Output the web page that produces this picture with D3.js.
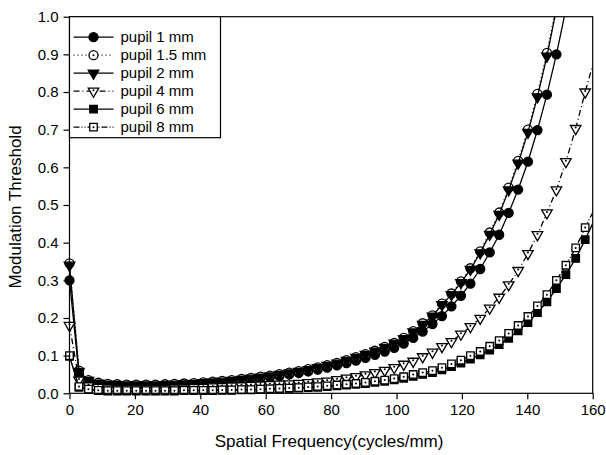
<!DOCTYPE html>
<html>
<head>
<meta charset="utf-8">
<script src="https://cdn.jsdelivr.net/npm/d3@7"></script>
<style>
  body { margin: 0; background: #fff; }
  svg text { font-family: "Liberation Sans", Arial, sans-serif; fill: #000; }
</style>
</head>
<body>
<div id="chart"></div>
<script>
// spatial frequency samples (cycles/mm)
const freq = [0, 2.9, 5.8, 8.8, 11.7, 14.6, 17.5, 20.4, 23.4, 26.3, 29.2, 32.1, 35.0, 38.0,
  40.9, 43.8, 46.7, 49.6, 52.6, 55.5, 58.4, 61.3, 64.2, 67.2, 70.1, 73.0, 75.9, 78.8, 81.8,
  84.7, 87.6, 90.5, 93.4, 96.4, 99.3, 102.2, 105.1, 108.0, 111.0, 113.9, 116.8, 119.7, 122.6,
  125.6, 128.5, 131.4, 134.3, 137.2, 140.2, 143.1, 146.0, 148.9, 151.8, 154.8, 157.7, 160.6];

const pupil1 = [0.300, 0.050, 0.032, 0.026, 0.023, 0.022, 0.021, 0.021, 0.021, 0.021, 0.022,
  0.023, 0.024, 0.025, 0.026, 0.028, 0.030, 0.032, 0.034, 0.037, 0.040, 0.043, 0.046, 0.050,
  0.054, 0.058, 0.063, 0.068, 0.074, 0.080, 0.087, 0.094, 0.102, 0.111, 0.121, 0.132, 0.147,
  0.164, 0.184, 0.205, 0.231, 0.259, 0.291, 0.330, 0.374, 0.421, 0.479, 0.541, 0.615, 0.699,
  0.793, 0.900, 1.020, 1.160];

const pupil15 = [0.345, 0.060, 0.035, 0.028, 0.025, 0.024, 0.023, 0.023, 0.023, 0.023, 0.024,
  0.025, 0.026, 0.027, 0.029, 0.031, 0.033, 0.035, 0.038, 0.041, 0.044, 0.047, 0.051, 0.055,
  0.059, 0.064, 0.069, 0.075, 0.081, 0.088, 0.096, 0.104, 0.113, 0.123, 0.134, 0.147, 0.165,
  0.186, 0.207, 0.238, 0.265, 0.297, 0.332, 0.377, 0.427, 0.480, 0.546, 0.617, 0.700, 0.795,
  0.904, 1.030, 1.170];

const pupil2 = [0.340, 0.058, 0.034, 0.027, 0.024, 0.023, 0.022, 0.022, 0.022, 0.022, 0.023,
  0.024, 0.025, 0.026, 0.028, 0.030, 0.032, 0.034, 0.037, 0.040, 0.043, 0.046, 0.050, 0.054,
  0.058, 0.063, 0.068, 0.074, 0.080, 0.087, 0.095, 0.103, 0.112, 0.122, 0.133, 0.145, 0.163,
  0.183, 0.205, 0.235, 0.262, 0.294, 0.329, 0.373, 0.422, 0.475, 0.540, 0.611, 0.693, 0.787,
  0.895, 1.020, 1.160];

const pupil4 = [0.180, 0.035, 0.020, 0.016, 0.014, 0.013, 0.013, 0.013, 0.013, 0.013, 0.013,
  0.014, 0.014, 0.015, 0.016, 0.017, 0.018, 0.019, 0.020, 0.021, 0.022, 0.023, 0.024, 0.025,
  0.026, 0.028, 0.030, 0.032, 0.036, 0.040, 0.044, 0.049, 0.055, 0.061, 0.068, 0.077, 0.085,
  0.097, 0.109, 0.124, 0.137, 0.157, 0.177, 0.199, 0.226, 0.255, 0.288, 0.326, 0.371, 0.421,
  0.479, 0.540, 0.615, 0.703, 0.800, 0.890];

const pupil6 = [0.098, 0.016, 0.010, 0.007, 0.006, 0.006, 0.006, 0.006, 0.006, 0.006, 0.006,
  0.006, 0.007, 0.007, 0.007, 0.007, 0.008, 0.008, 0.009, 0.009, 0.010, 0.011, 0.012, 0.013,
  0.014, 0.015, 0.016, 0.018, 0.020, 0.022, 0.024, 0.026, 0.029, 0.032, 0.036, 0.040, 0.045,
  0.050, 0.055, 0.062, 0.071, 0.080, 0.091, 0.102, 0.115, 0.129, 0.146, 0.166, 0.188, 0.214,
  0.243, 0.278, 0.315, 0.358, 0.408, 0.462];

const pupil8 = [0.100, 0.018, 0.011, 0.008, 0.007, 0.007, 0.007, 0.007, 0.007, 0.007, 0.007,
  0.007, 0.008, 0.008, 0.008, 0.008, 0.009, 0.009, 0.010, 0.010, 0.011, 0.012, 0.013, 0.014,
  0.015, 0.017, 0.018, 0.020, 0.022, 0.024, 0.026, 0.029, 0.032, 0.035, 0.039, 0.044, 0.050,
  0.055, 0.060, 0.068, 0.078, 0.088, 0.100, 0.111, 0.125, 0.140, 0.159, 0.180, 0.204, 0.232,
  0.262, 0.300, 0.340, 0.386, 0.440, 0.490];

const seriesNames = ['pupil 1 mm', 'pupil 1.5 mm', 'pupil 2 mm', 'pupil 4 mm', 'pupil 6 mm', 'pupil 8 mm'];
const seriesValues = [pupil1, pupil15, pupil2, pupil4, pupil6, pupil8];

const xTicks = [0, 20, 40, 60, 80, 100, 120, 140, 160];
const yTicks = [0, 0.1, 0.2, 0.3, 0.4, 0.5, 0.6, 0.7, 0.8, 0.9, 1.0];

// look of each series: marker, fill, dot in centre, dash
const styles = [
  { symbol: d3.symbolCircle, size: 64, filled: true, dot: false, dash: null, rot: 0 },
  { symbol: d3.symbolCircle, size: 64, filled: false, dot: true, dash: '1,3', rot: 0 },
  { symbol: d3.symbolTriangle, size: 48, filled: true, dot: false, dash: null, rot: 180 },
  { symbol: d3.symbolTriangle, size: 48, filled: false, dot: true, dash: '6,3,1,3', rot: 180 },
  { symbol: d3.symbolSquare, size: 56, filled: true, dot: false, dash: null, rot: 0 },
  { symbol: d3.symbolSquare, size: 56, filled: false, dot: true, dash: '6,2,1,2,1,2', rot: 0 }
];

const width = 606, height = 455;
const margin = { top: 16.7, right: 13.3, bottom: 61.7, left: 69.5 };
const innerWidth = width - margin.left - margin.right;
const innerHeight = height - margin.top - margin.bottom;

const svg = d3.select('#chart').append('svg')
  .attr('width', width)
  .attr('height', height);

const g = svg.append('g')
  .attr('transform', `translate(${margin.left},${margin.top})`);

const x = d3.scaleLinear().domain([0, 160]).range([0, innerWidth]);
const y = d3.scaleLinear().domain([0, 1]).range([innerHeight, 0]);

svg.append('defs').append('clipPath').attr('id', 'plot-clip')
  .append('rect').attr('x', 0).attr('y', 0).attr('width', innerWidth).attr('height', innerHeight);

const line = d3.line()
  .x(d => x(d.f))
  .y(d => y(d.v));

function drawMarker(sel, st) {
  sel.append('path')
    .attr('d', d3.symbol(st.symbol, st.size)())
    .attr('transform', `rotate(${st.rot})`)
    .attr('fill', st.filled ? '#000' : '#fff')
    .attr('stroke', '#000')
    .attr('stroke-width', 1.3);
  if (st.dot) {
    sel.append('circle')
      .attr('cx', 0)
      .attr('cy', st.rot ? -1 : 0)
      .attr('r', 1)
      .attr('fill', '#000');
  }
}

// Series
seriesValues.forEach((vals, i) => {
  const st = styles[i];
  const pts = vals.map((v, k) => ({ f: freq[k], v }));

  g.append('path')
    .datum(pts)
    .attr('clip-path', 'url(#plot-clip)')
    .attr('fill', 'none')
    .attr('stroke', '#000')
    .attr('stroke-width', 1.3)
    .attr('stroke-dasharray', st.dash)
    .attr('d', line);

  pts.filter(d => d.v <= 1 && d.f <= 160).forEach(d => {
    const m = g.append('g').attr('transform', `translate(${x(d.f)},${y(d.v)})`);
    drawMarker(m, st);
  });
});

// Frame
g.append('rect')
  .attr('x', 0).attr('y', 0)
  .attr('width', innerWidth).attr('height', innerHeight)
  .attr('fill', 'none')
  .attr('stroke', '#000')
  .attr('stroke-width', 1.2);

// Axes
const xAxis = g.append('g')
  .attr('transform', `translate(0,${innerHeight})`)
  .call(d3.axisBottom(x).tickValues(xTicks).tickSize(6).tickPadding(5).tickFormat(d3.format('d')));

const yAxis = g.append('g')
  .call(d3.axisLeft(y).tickValues(yTicks).tickSize(6).tickPadding(5).tickFormat(d3.format('.1f')));

[xAxis, yAxis].forEach(ax => {
  ax.select('.domain').remove();
  ax.selectAll('line').attr('stroke', '#000').attr('stroke-width', 1.2);
  ax.selectAll('text')
    .attr('fill', '#000')
    .attr('font-size', '15px')
    .style('font-family', '"Liberation Sans", Arial, sans-serif');
});

// Axis titles
svg.append('text')
  .attr('x', margin.left + innerWidth / 2 - 2)
  .attr('y', 447)
  .attr('text-anchor', 'middle')
  .attr('font-size', '17px')
  .text('Spatial Frequency(cycles/mm)');

svg.append('text')
  .attr('transform', `translate(21,${margin.top + innerHeight / 2 + 2}) rotate(-90)`)
  .attr('text-anchor', 'middle')
  .attr('font-size', '17px')
  .text('Modulation Threshold');

// Legend
const legend = g.append('g');
legend.append('rect')
  .attr('x', 0).attr('y', 0)
  .attr('width', 151).attr('height', 121)
  .attr('fill', '#fff')
  .attr('stroke', '#000')
  .attr('stroke-width', 1.2);

seriesNames.forEach((name, i) => {
  const st = styles[i];
  const item = legend.append('g')
    .attr('transform', `translate(0,${20.5 + i * 18})`);

  item.append('line')
    .attr('x1', 4).attr('x2', 44)
    .attr('y1', 0).attr('y2', 0)
    .attr('stroke', '#000')
    .attr('stroke-width', 1.3)
    .attr('stroke-dasharray', st.dash);

  drawMarker(item.append('g').attr('transform', 'translate(24,0)'), st);

  item.append('text')
    .attr('x', 51)
    .attr('y', 5)
    .attr('font-size', '15px')
    .text(name);
});
</script>
</body>
</html>
